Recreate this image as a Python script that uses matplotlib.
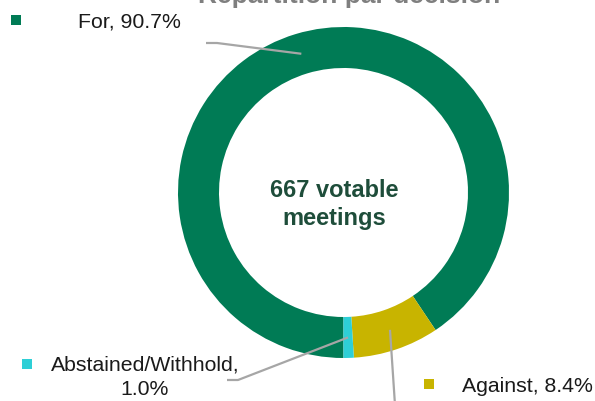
import numpy as np
import matplotlib
matplotlib.use("Agg")
import matplotlib.pyplot as plt

# data
categories = ["For", "Against", "Abstained/Withhold"]
shares = [90.7, 8.4, 1.0]
colors = ["#007B55", "#C8B400", "#2ECFD6"]
n_meetings = 667
title = "Répartition par décision"

W, H = 595, 401
plt.rcParams["font.family"] = ["Liberation Sans", "DejaVu Sans"]


def py(y):
    """pixel row (from top) -> data y"""
    return H - y


fig = plt.figure(figsize=(W / 100, H / 100), dpi=100)
ax = fig.add_axes([0, 0, 1, 1])

cx, cy = 343.5, py(192.5)
radius, ring = 165.5, 41
wedges, _ = ax.pie(
    shares,
    colors=colors,
    startangle=-90,
    counterclock=False,
    radius=radius,
    center=(cx, cy),
    wedgeprops=dict(width=ring, linewidth=0),
)

# label layout: marker position, text position (baseline of last line), alignment, leader elbow
layout = {
    "For": dict(marker=(15.5, 19.5), text=(78, 28), ha="left", elbow=[(206, 43), (217, 43)]),
    "Against": dict(marker=(428.5, 383.5), text=(462, 392), ha="left", elbow=[(396, 420)]),
    "Abstained/Withhold": dict(marker=(27, 364), text=(145, 395), ha="center",
                               elbow=[(227, 380), (238, 380)]),
}

line_col = "#A6A6A6"
mid_r = radius - ring / 2
for w, cat, val, col in zip(wedges, categories, shares, colors):
    lay = layout[cat]
    ang = np.deg2rad((w.theta1 + w.theta2) / 2)
    ax0 = cx + mid_r * np.cos(ang)
    ay0 = cy + mid_r * np.sin(ang)
    pts = [(x, py(y)) for x, y in lay["elbow"]] + [(ax0, ay0)]
    xs, ys = zip(*pts)
    ax.plot(xs, ys, color=line_col, lw=1.6, solid_capstyle="butt", clip_on=False)

    mx, my = lay["marker"]
    ax.plot(mx, py(my), marker="s", ms=7.9, color=col, mew=0, ls="none")
    if cat == "Abstained/Withhold":
        label = f"{cat},\n{val:.1f}%"
    else:
        label = f"{cat}, {val:.1f}%"
    tx, ty = lay["text"]
    ax.text(tx, py(ty), label, ha=lay["ha"], va="baseline", fontsize=15.3,
            color="#1A1A1A", multialignment="center", linespacing=1.39)

ax.text(334, py(225), f"{n_meetings} votable\nmeetings", ha="center", va="baseline",
        fontsize=17, fontweight="bold", color="#1E4D3A", multialignment="center",
        linespacing=1.3)

ax.text(349, py(3), title, ha="center", va="baseline", fontsize=19,
        fontweight="bold", color="#7F7F7F")

ax.set_xlim(0, W)
ax.set_ylim(0, H)
ax.set_aspect("equal")
ax.axis("off")

fig.savefig("out.png", dpi=100)
